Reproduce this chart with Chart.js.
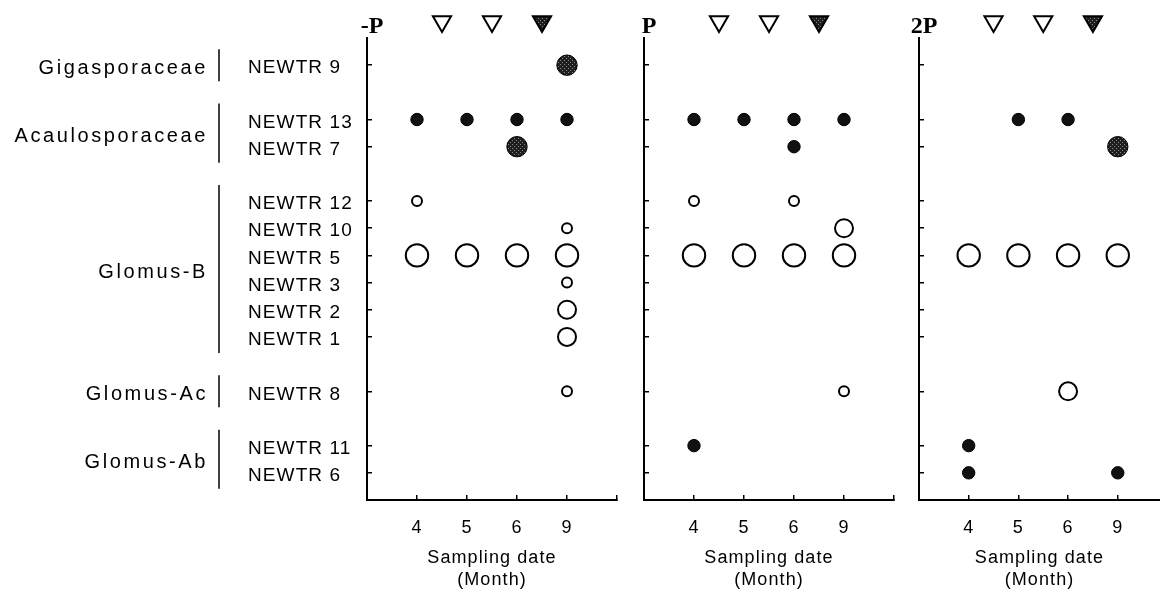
<!DOCTYPE html>
<html>
<head>
<meta charset="utf-8">
<script src="https://cdn.jsdelivr.net/npm/chart.js@4/dist/chart.umd.min.js"></script>
<style>
  html, body { margin: 0; padding: 0; background: #fff; }
  #wrap { position: relative; width: 1160px; height: 591px; overflow: hidden; }
  .panel { position: absolute; top: 0; height: 591px; }
</style>
</head>
<body>
<div id="wrap">
  <div class="panel" style="left:0;width:645px"><canvas id="c0"></canvas></div>
  <div class="panel" style="left:630px;width:290px"><canvas id="c1"></canvas></div>
  <div class="panel" style="left:900px;width:260px"><canvas id="c2"></canvas></div>
</div>
<script>
// ---------------- data ----------------
const months = ['4', '5', '6', '9'];
const treatments = ['-P', 'P', '2P'];
const families = ['Gigasporaceae', 'Acaulosporaceae', 'Glomus-B', 'Glomus-Ac', 'Glomus-Ab'];
const familyIsolates = [
  ['NEWTR 9'],
  ['NEWTR 13', 'NEWTR 7'],
  ['NEWTR 12', 'NEWTR 10', 'NEWTR 5', 'NEWTR 3', 'NEWTR 2', 'NEWTR 1'],
  ['NEWTR 8'],
  ['NEWTR 11', 'NEWTR 6']
];

// triangles between sampling months (after month index), last one filled
const applicationAfter = [0, 1, 2];
const applicationFilled = [false, false, true];

// level per isolate (rows: 9,13,7,12,10,5,3,2,1,8,11,6) x month (4,5,6,9)
// solid: 1 small, 2 large   open: 1 small, 2 medium, 3 large
const solidMinusP = [[0,0,0,2],[1,1,1,1],[0,0,2,0],[0,0,0,0],[0,0,0,0],[0,0,0,0],
                     [0,0,0,0],[0,0,0,0],[0,0,0,0],[0,0,0,0],[0,0,0,0],[0,0,0,0]];
const openMinusP  = [[0,0,0,0],[0,0,0,0],[0,0,0,0],[1,0,0,0],[0,0,0,1],[3,3,3,3],
                     [0,0,0,1],[0,0,0,2],[0,0,0,2],[0,0,0,1],[0,0,0,0],[0,0,0,0]];
const solidP      = [[0,0,0,0],[1,1,1,1],[0,0,1,0],[0,0,0,0],[0,0,0,0],[0,0,0,0],
                     [0,0,0,0],[0,0,0,0],[0,0,0,0],[0,0,0,0],[1,0,0,0],[0,0,0,0]];
const openP       = [[0,0,0,0],[0,0,0,0],[0,0,0,0],[1,0,1,0],[0,0,0,2],[3,3,3,3],
                     [0,0,0,0],[0,0,0,0],[0,0,0,0],[0,0,0,1],[0,0,0,0],[0,0,0,0]];
const solid2P     = [[0,0,0,0],[0,1,1,0],[0,0,0,2],[0,0,0,0],[0,0,0,0],[0,0,0,0],
                     [0,0,0,0],[0,0,0,0],[0,0,0,0],[0,0,0,0],[1,0,0,0],[1,0,0,1]];
const open2P      = [[0,0,0,0],[0,0,0,0],[0,0,0,0],[0,0,0,0],[0,0,0,0],[3,3,3,3],
                     [0,0,0,0],[0,0,0,0],[0,0,0,0],[0,0,2,0],[0,0,0,0],[0,0,0,0]];

// ---------------- layout / style ----------------
Chart.defaults.font.family = '"Liberation Sans", Arial, sans-serif';
Chart.defaults.color = '#000';

const solidR = [0, 6.2, 10.2];
const openR = [0, 5, 9, 11.2];
const Y_MIN = -1, Y_MAX = 16;
const MARK_Y = Y_MIN - 0.61;

// row positions, one empty row between families
const isolates = familyIsolates.flat();
const rowPos = [];
let pos = 0;
familyIsolates.forEach((list, f) => {
  if (f > 0) pos += 1;
  list.forEach(() => { rowPos.push(pos); pos++; });
});

// stippled fill for the big dark circles
const pat = document.createElement('canvas');
pat.width = 4; pat.height = 4;
const pctx = pat.getContext('2d');
pctx.fillStyle = '#1e1e1e';
pctx.fillRect(0, 0, 4, 4);
pctx.fillStyle = '#8a8a8a';
pctx.fillRect(0, 0, 1, 1);
pctx.fillRect(2, 2, 1, 1);
const stipple = pctx.createPattern(pat, 'repeat');

function points(levels) {
  const out = [];
  levels.forEach((row, i) => row.forEach((lv, m) => {
    if (lv > 0) out.push({ x: m + 1, y: rowPos[i], level: lv });
  }));
  return out;
}

const decor = {
  id: 'decor',
  beforeUpdate(chart) { chart.ctx.letterSpacing = '1.1px'; },
  beforeDraw(chart) { chart.ctx.letterSpacing = '1.1px'; },
  afterDatasetsDraw(chart) {
    // triangles sit above the plot area, so draw their elements without the area check
    const full = { left: 0, top: 0, right: chart.width, bottom: chart.height };
    chart.getDatasetMeta(2).data.forEach(el => el.draw(chart.ctx, full));
  },
  afterDraw(chart, args, opts) {
    const ctx = chart.ctx, ys = chart.scales.y, area = chart.chartArea;
    ctx.save();
    ctx.letterSpacing = '0px';
    ctx.fillStyle = '#000';
    ctx.font = 'bold 24px "Liberation Serif"';
    ctx.textAlign = 'center';
    ctx.textBaseline = 'alphabetic';
    ctx.fillText(opts.title, area.left + 5, 33);
    if (opts.families) {
      ctx.font = '20px "Liberation Sans"';
      ctx.letterSpacing = '2.6px';
      ctx.textAlign = 'right';
      ctx.textBaseline = 'middle';
      ctx.strokeStyle = '#000';
      ctx.lineWidth = 1.5;
      let i = 0;
      families.forEach((name, f) => {
        const n = familyIsolates[f].length;
        const top = ys.getPixelForValue(rowPos[i]);
        const bot = ys.getPixelForValue(rowPos[i + n - 1]);
        i += n;
        ctx.fillText(name, 208, (top + bot) / 2 + 3);
        ctx.beginPath();
        ctx.moveTo(219, top - 16);
        ctx.lineTo(219, bot + 16);
        ctx.stroke();
      });
    }
    ctx.restore();
  }
};

// right padding kept above the tick padding so the x axis is not shrunk
const pads = [{ left: 248, right: 28 }, { left: 14, right: 26 }, { left: 19, right: 0 }];
const xMax = [5, 5, 4.85];

function makePanel(k, solid, open) {
  const first = k === 0;
  return new Chart(document.getElementById('c' + k), {
    type: 'scatter',
    data: {
      datasets: [
        {
          label: 'open',
          data: points(open),
          pointRadius: c => openR[c.raw.level],
          backgroundColor: '#fff',
          borderColor: '#000',
          borderWidth: 2
        },
        {
          label: 'solid',
          data: points(solid),
          pointRadius: c => solidR[c.raw.level],
          backgroundColor: c => c.raw.level === 2 ? stipple : '#111',
          borderColor: '#000',
          borderWidth: 1
        },
        {
          label: 'application',
          data: applicationAfter.map(m => ({ x: m + 1.5, y: MARK_Y })),
          pointStyle: 'triangle',
          rotation: 180,
          pointRadius: 10.5,
          backgroundColor: applicationFilled.map(f => f ? stipple : '#fff'),
          borderColor: '#000',
          borderWidth: 2,
          clip: false
        }
      ]
    },
    options: {
      responsive: true,
      maintainAspectRatio: false,
      animation: false,
      events: [],
      layout: {
        autoPadding: false,
        padding: { left: pads[k].left, right: pads[k].right, top: 38, bottom: 0 }
      },
      plugins: {
        legend: { display: false },
        tooltip: { enabled: false },
        decor: { title: treatments[k], families: first }
      },
      scales: {
        x: {
          type: 'linear',
          min: 0,
          max: xMax[k],
          afterBuildTicks: s => { s.ticks = [1, 2, 3, 4, 5].filter(v => v <= s.max).map(v => ({ value: v })); },
          afterFit: s => { s.height = 91; },
          grid: { drawOnChartArea: false, tickLength: -5, color: '#000', lineWidth: 1.5 },
          border: { display: true, color: '#000', width: 2 },
          ticks: {
            padding: 22,
            font: { size: 18 },
            color: '#000',
            maxRotation: 0,
            callback: v => months[v - 1] || ''
          },
          title: {
            display: true,
            text: ['Sampling date', '(Month)'],
            font: { size: 18, lineHeight: 1.22 },
            color: '#000',
            padding: { top: 0, bottom: 0 }
          }
        },
        y: {
          type: 'linear',
          reverse: true,
          min: Y_MIN,
          max: Y_MAX,
          afterBuildTicks: s => { s.ticks = rowPos.map(v => ({ value: v })); },
          afterFit: s => { s.width = first ? 119 : 0; },
          grid: { drawOnChartArea: false, tickLength: -5, color: '#000', lineWidth: 1.5 },
          border: { display: true, color: '#000', width: 2 },
          ticks: {
            display: first,
            crossAlign: 'far',
            padding: 0,
            labelOffset: 3,
            font: { size: 19 },
            color: '#000',
            callback: v => isolates[rowPos.indexOf(v)] || ''
          }
        }
      }
    },
    plugins: [decor]
  });
}

makePanel(0, solidMinusP, openMinusP);
makePanel(1, solidP, openP);
makePanel(2, solid2P, open2P);
</script>
</body>
</html>
